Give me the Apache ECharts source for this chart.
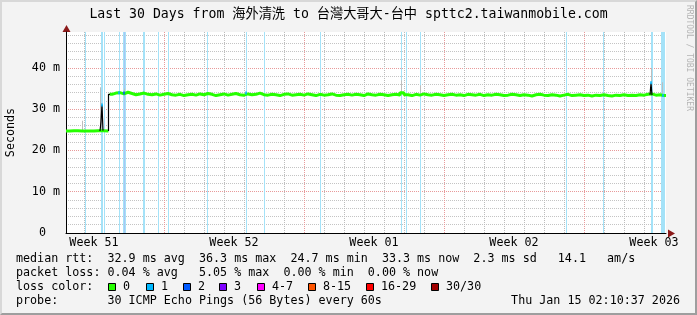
<!DOCTYPE html>
<html><head><meta charset="utf-8">
<script src="https://cdn.jsdelivr.net/npm/echarts@6/dist/echarts.min.js"></script>
<style>
html,body{margin:0;padding:0;background:#f3f3f3;}
#chart{position:absolute;left:0;top:0;width:697px;height:315px;}
#frame{position:absolute;left:0;top:0;width:697px;height:315px;box-sizing:border-box;border-top:2px solid #d8d8d8;border-left:2px solid #d8d8d8;border-right:2px solid #9e9e9e;border-bottom:2px solid #9e9e9e;pointer-events:none;}
</style></head><body>
<div id="chart"></div><div id="frame"></div>
<script>
// ---------------- data ----------------
const TITLE = 'Last 30 Days from 海外清洗 to 台灣大哥大-台中 spttc2.taiwanmobile.com';
// x values: days since Mon 15 Dec 2025 00:00 (start of ISO week 51)
const X_MIN = 2.1, X_MAX = 32.1;
const STEP_DAYS = 0.05;            // one RRD step (72 min)
const Y_MIN = 0, Y_MAX = 48.7;      // ms
const weekLabels = ['Week 51', 'Week 52', 'Week 01', 'Week 02', 'Week 03'];
const weekLabelDays = [3.5, 10.5, 17.5, 24.5, 31.5];
const weekStartDays = [7, 14, 21, 28];
const yMajorTicks = [0, 10, 20, 30, 40];

// median rtt (ms)
const medianEarly = [[2.1, 24.7], [2.5, 24.8], [2.9, 24.7], [3.3, 24.7], [3.7, 24.8], [4.225, 24.7]];
const medianStart = 4.3, medianStep = 0.2;
const medianValues = [
  33.6, 33.9, 34.0, 33.7, 34.1, 33.8, 33.5, 33.7, 33.9, 33.6,
  33.5, 33.7, 33.4, 33.6, 33.8, 33.5, 33.4, 33.6, 33.3, 33.5,
  33.6, 33.4, 33.7, 33.5, 33.8, 33.6, 33.3, 33.5, 33.7, 33.4,
  33.6, 33.8, 33.5, 33.4, 33.7, 33.5, 33.6, 33.9, 33.5, 33.4,
  33.6, 33.5, 33.3, 33.6, 33.7, 33.4, 33.5, 33.6, 33.4, 33.7,
  33.5, 33.3, 33.6, 33.4, 33.5, 33.7, 33.4, 33.3, 33.5, 33.6,
  33.4, 33.6, 33.5, 33.3, 33.7, 33.5, 33.4, 33.6, 33.5, 33.3,
  33.5, 33.6, 33.4, 34.0, 33.5, 33.3, 33.6, 33.4, 33.7, 33.5,
  33.4, 33.6, 33.5, 33.3, 33.5, 33.6, 33.4, 33.5, 33.3, 33.6,
  33.5, 33.4, 33.6, 33.3, 33.5, 33.4, 33.6, 33.5, 33.3, 33.4,
  33.6, 33.5, 33.3, 33.5, 33.4, 33.2, 33.5, 33.6, 33.4, 33.3,
  33.5, 33.4, 33.2, 33.4, 33.6, 33.3, 33.4, 33.5, 33.3, 33.4,
  33.2, 33.4, 33.3, 33.5, 33.3, 33.2, 33.4, 33.3, 33.5, 33.3,
  33.4, 33.3, 33.5, 33.4, 33.6, 33.7, 33.4, 33.5, 33.3, 33.3
];
// median transitions / spikes drawn in black
const medianEdges = [
  [[3.8, 24.7], [3.85, 27.0], [3.9, 31.0], [3.95, 24.8]],
  [[4.225, 24.7], [4.225, 33.6], [4.3, 33.6]],
  [[31.3, 33.5], [31.35, 36.3], [31.4, 33.4]]
];
// smoke extremes: [day, low ms, high ms]
const smokeSpikes = [
  [2.9, 24.9, 27.2], [3.8, 25.0, 35.3], [3.85, 25.0, 31.5], [5.0, 33.8, 35.0],
  [18.85, 33.8, 37.0], [19.8, 33.8, 35.8], [31.35, 33.8, 40.0], [31.9, 33.8, 36.5]
];
// loss periods: [start day, steps, loss level]
const lossStripes = [
  [3.05, 1, '1'], [3.85, 2, '1'], [4.0, 1, '1'], [4.75, 1, '1'],
  [4.95, 1, '1'], [5.0, 1, '2'], [5.05, 1, '1'], [5.95, 2, '1'],
  [6.7, 1, '1'], [7.2, 1, '1'], [9.15, 1, '1'], [11.1, 1, '1'],
  [12.0, 1, '1'], [14.8, 1, '1'], [18.85, 1, '1'], [19.1, 1, '1'],
  [19.8, 1, '1'], [27.1, 1, '1'], [28.95, 1, '1'], [31.35, 2, '1'],
  [31.85, 4, '1']
];
// loss-coloured median samples: [day, ms, level]
const lossMarks = [
  [3.9, 31.0, '1'], [4.75, 34.0, '1'], [5.0, 33.9, '2'], [11.1, 33.9, '1'],
  [31.35, 36.4, '1'], [31.95, 33.3, '1']
];
const lossLevels = ['0', '1', '2', '3', '4-7', '8-15', '16-29', '30/30'];
const lossColors = ['#26ff00', '#00b8ff', '#0059ff', '#7e00ff', '#ff00ff', '#ff5500', '#ff0000', '#a10000'];
const stripeColors = { '1': '#a4e2f8', '2': '#a8c6f4' };

const statRows = [
  'median rtt:  32.9 ms avg  36.3 ms max  24.7 ms min  33.3 ms now  2.3 ms sd   14.1   am/s',
  'packet loss: 0.04 % avg   5.05 % max  0.00 % min  0.00 % now'
];
const lossLegendTitle = 'loss color:';
const probeText = 'probe:       30 ICMP Echo Pings (56 Bytes) every 60s';
const stampText = 'Thu Jan 15 02:10:37 2026';
const sideText = 'RRDTOOL / TOBI OETIKER';

// ---------------- chart ----------------
const FONT = "'DejaVu Sans Mono', 'Noto Sans CJK TC', monospace";
const FS = 11.7;
const GRID = { left: 66, right: 31, top: 32, bottom: 82 };
const HALF = STEP_DAYS / 2;

const greenData = medianEarly.slice();
greenData.push([4.26, '-']);
medianValues.forEach((v, i) => greenData.push([+(medianStart + i * medianStep).toFixed(3), v]));

const edgeData = [];
medianEdges.forEach((seg, k) => { if (k) edgeData.push([seg[0][0] - 0.01, '-']); seg.forEach(p => edgeData.push(p)); });

const gridLines = [];
for (let d = Math.ceil(X_MIN); d < X_MAX; d++) {
  const major = weekStartDays.indexOf(d) >= 0;
  gridLines.push({ xAxis: d + HALF, lineStyle: { color: major ? '#e89a9a' : '#bcbcbc', type: [1, 1], width: 1 } });
}

const stripeAreas = lossStripes.map(s => [
  { xAxis: s[0], itemStyle: { color: stripeColors[s[2]] } },
  { xAxis: s[0] + s[1] * STEP_DAYS }
]);
const smokeAreas = smokeSpikes.map(s => [
  { xAxis: s[0], yAxis: s[1], itemStyle: { color: '#bdbdbd' } },
  { xAxis: s[0] + STEP_DAYS, yAxis: s[2] }
]);

const graphics = [];
graphics.push({ type: 'text', x: 348.5, y: 15, style: { text: TITLE, font: '13.2px ' + FONT, fill: '#000', align: 'center', verticalAlign: 'middle' } });
graphics.push({ type: 'text', x: 689, y: 5, rotation: -Math.PI / 2, style: { text: sideText, font: '8px ' + FONT, fill: '#b4b4b4', align: 'left', verticalAlign: 'middle' } });
statRows.forEach((t, i) => graphics.push({ type: 'text', x: 16, y: 259 + i * 14, style: { text: t, font: FS + 'px ' + FONT, fill: '#000', verticalAlign: 'middle' } }));
graphics.push({ type: 'text', x: 16, y: 287, style: { text: lossLegendTitle, font: FS + 'px ' + FONT, fill: '#000', verticalAlign: 'middle' } });
const boxX = [108, 146, 183, 219, 257, 308, 366, 431];
lossLevels.forEach((lv, i) => {
  graphics.push({ type: 'rect', shape: { x: boxX[i] + 0.5, y: 283.5, width: 7, height: 7 }, style: { fill: lossColors[i], stroke: '#000', lineWidth: 1 } });
  graphics.push({ type: 'text', x: boxX[i] + 15, y: 287, style: { text: lv, font: FS + 'px ' + FONT, fill: '#000', verticalAlign: 'middle' } });
});
graphics.push({ type: 'text', x: 16, y: 301, style: { text: probeText, font: FS + 'px ' + FONT, fill: '#000', verticalAlign: 'middle' } });
graphics.push({ type: 'text', x: 680, y: 301, style: { text: stampText, font: FS + 'px ' + FONT, fill: '#000', align: 'right', verticalAlign: 'middle' } });
// axis arrows
graphics.push({ type: 'polygon', shape: { points: [[668, 229.5], [675, 233.5], [668, 237.5]] }, style: { fill: '#8b1a1a' } });
graphics.push({ type: 'polygon', shape: { points: [[62.5, 32], [66.5, 25], [70.5, 32]] }, style: { fill: '#8b1a1a' } });

const chart = echarts.init(document.getElementById('chart'), null, { renderer: 'canvas' });
chart.setOption({
  animation: false,
  backgroundColor: '#f3f3f3',
  textStyle: { fontFamily: FONT },
  grid: Object.assign({ backgroundColor: '#fff', show: true, borderWidth: 0, containLabel: false, outerBoundsMode: 'none' }, GRID),
  xAxis: {
    type: 'value', min: X_MIN, max: X_MAX,
    axisLine: { show: true, onZero: false, lineStyle: { color: '#000', width: 1 } },
    axisTick: { show: false },
    splitLine: { show: false },
    axisLabel: {
      customValues: weekLabelDays, margin: 4, color: '#000', fontFamily: FONT, fontSize: FS,
      formatter: v => { let best = 0; weekLabelDays.forEach((d, i) => { if (Math.abs(d - v) < Math.abs(weekLabelDays[best] - v)) best = i; }); return weekLabels[best]; }
    }
  },
  yAxis: [{
    type: 'value', min: Y_MIN, max: Y_MAX, interval: 2,
    name: 'Seconds', nameLocation: 'middle', nameRotate: 90, nameGap: 49,
    nameTextStyle: { fontFamily: FONT, fontSize: FS, color: '#000' },
    axisLine: { show: true, lineStyle: { color: '#000', width: 1 } },
    axisTick: { show: false },
    axisLabel: {
      margin: 6, color: '#000', fontFamily: FONT, fontSize: FS,
      formatter: v => (yMajorTicks.indexOf(v) >= 0 ? (v === 0 ? '0  ' : v + ' m') : '')
    },
    splitLine: { show: true, showMaxLine: false, lineStyle: { color: ['rgba(0,0,0,0)', '#c4c4c4', '#c4c4c4', '#c4c4c4', '#c4c4c4'], type: [1, 1], width: 1 } }
  }, {
    type: 'value', min: Y_MIN, max: Y_MAX, interval: 10, position: 'left',
    axisLine: { show: false }, axisTick: { show: false }, axisLabel: { show: false },
    splitLine: { show: true, showMinLine: false, showMaxLine: false, lineStyle: { color: '#e89a9a', type: [1, 1], width: 1 } }
  }],
  series: [
    { type: 'line', name: 'grid', data: [], silent: true, markLine: { silent: true, z: 1, symbol: 'none', label: { show: false }, data: gridLines } },
    { type: 'line', name: 'loss', data: [], silent: true, markArea: { silent: true, z: 2, data: stripeAreas } },
    { type: 'line', name: 'smoke', data: [], silent: true, markArea: { silent: true, z: 3, data: smokeAreas } },
    { type: 'line', name: 'median', data: greenData, z: 4, symbol: 'none', step: 'middle', connectNulls: false, lineStyle: { color: '#26ff00', width: 3 } },
    { type: 'line', name: 'edges', data: edgeData, z: 5, symbol: 'none', connectNulls: false, lineStyle: { color: '#000', width: 1.2 } },
    { type: 'scatter', name: 'lossMarks', z: 6, symbol: 'rect', symbolSize: [2, 3],
      data: lossMarks.map(m => ({ value: [m[0], m[1]], itemStyle: { color: lossColors[lossLevels.indexOf(m[2])] } })) }
  ],
  graphic: graphics
});
</script>
</body></html>
